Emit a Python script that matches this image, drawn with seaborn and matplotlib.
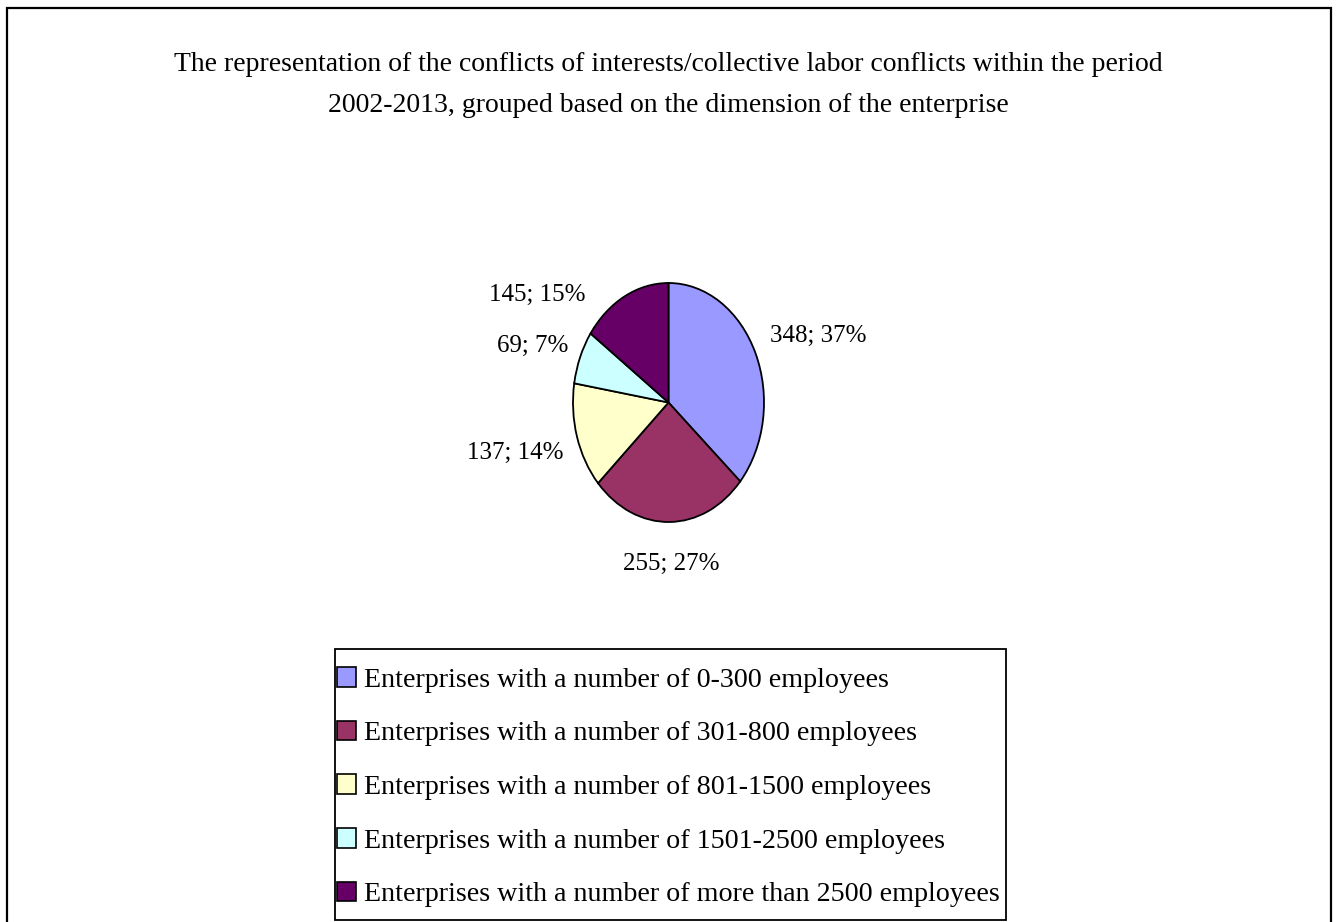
import matplotlib
matplotlib.use("Agg")
import matplotlib.pyplot as plt
from matplotlib.patches import Patch, Rectangle
import seaborn as sns

# Conflicts of interests / collective labour conflicts 2002-2013 by enterprise size
categories = [
    "Enterprises with a number of 0-300 employees",
    "Enterprises with a number of 301-800 employees",
    "Enterprises with a number of 801-1500 employees",
    "Enterprises with a number of 1501-2500 employees",
    "Enterprises with a number of more than 2500 employees",
]
conflicts = [348, 255, 137, 69, 145]
shares_pct = [37, 27, 14, 7, 15]

title_text = ("The representation of the conflicts of interests/collective labor conflicts within the period\n"
              "2002-2013, grouped based on the dimension of the enterprise")

slice_colors = ["#9999FF", "#993366", "#FFFFCC", "#CCFFFF", "#660066"]

# label anchor points, in units of the pie radius (x, y)
label_pos = [(1.57, 0.56), (0.03, -1.35), (-1.60, -0.42), (-1.42, 0.47), (-1.37, 0.90)]

sns.set_theme(style="white")
plt.rcParams["font.family"] = ["Liberation Serif", "DejaVu Serif"]
plt.rcParams["text.color"] = "black"

W, H = 1336, 922
fig = plt.figure(figsize=(W / 100, H / 100), dpi=100)
fig.patch.set_facecolor("white")

# outer chart-area frame (bottom edge runs off the canvas)
fig.add_artist(Rectangle((7 / W, -0.02), (1331 - 7) / W, 1.02 - 8 / H,
                         transform=fig.transFigure, fill=False,
                         edgecolor="black", linewidth=1.6, zorder=0))

fig.text(668 / W, 1 - 85 / H, title_text, ha="center", va="center",
         fontsize=20, linespacing=1.82, color="black")

# elliptical pie: axes box equals the ellipse bounding box
cx, cy, rx, ry = 668.5, 402.5, 95.5, 119.5
ax = fig.add_axes([(cx - rx) / W, 1 - (cy + ry) / H, 2 * rx / W, 2 * ry / H])
palette = sns.color_palette(slice_colors)
wedges, _ = ax.pie(conflicts, colors=palette, startangle=90, counterclock=False,
                   radius=1.0, center=(0, 0),
                   wedgeprops=dict(edgecolor="black", linewidth=1.3))
ax.set_aspect("auto")
ax.set_xlim(-1, 1)
ax.set_ylim(-1, 1)
ax.axis("off")

for v, p, (lx, ly) in zip(conflicts, shares_pct, label_pos):
    ax.text(lx, ly, f"{v}; {p}%", ha="center", va="center",
            fontsize=18, color="black", clip_on=False)

# legend box drawn separately so its padding can be set per side
fig.add_artist(Rectangle((335 / W, 1 - 920 / H), (1006 - 335) / W, (920 - 649) / H,
                         transform=fig.transFigure, facecolor="white",
                         edgecolor="black", linewidth=1.3, zorder=1))

handles = [Patch(facecolor=c, edgecolor="black", linewidth=1.2) for c in palette]
leg = fig.legend(handles, categories, loc="upper left",
                 bbox_to_anchor=(337 / W, 1 - 667 / H),
                 frameon=False, fontsize=20.2, labelcolor="black",
                 labelspacing=1.0,
                 handlelength=0.68, handleheight=0.7, handletextpad=0.3,
                 borderpad=0.0, borderaxespad=0.0)
leg.set_zorder(2)

fig.savefig("out.png", dpi=100, facecolor="white")
